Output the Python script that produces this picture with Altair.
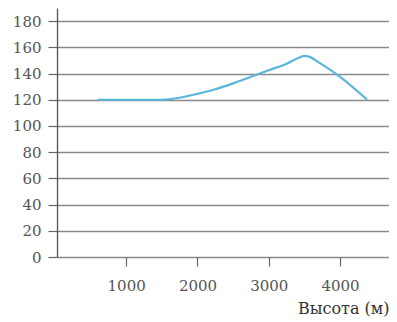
import altair as alt
import pandas as pd

altitude = [600, 1000, 1500, 1750, 2000, 2250, 2500, 2750, 3000, 3250, 3420, 3500, 3580, 3700, 4000, 4380]
value = [120, 120, 120, 121.5, 124.5, 128, 132.5, 137.5, 142.5, 147.5, 152, 153.5, 152.5, 148.5, 137.5, 120]

df = pd.DataFrame({"altitude": altitude, "value": value})

FONT = "DejaVu Serif"

chart = alt.Chart(df).mark_line(
    color="#5ab6dc", strokeWidth=2.2, interpolate="monotone"
).encode(
    x=alt.X("altitude:Q",
            scale=alt.Scale(domain=[30, 4686], nice=False, zero=False),
            axis=alt.Axis(values=[1000, 2000, 3000, 4000], format="d", title="Высота (м)",
                          grid=False, domain=False, tickSize=9, tickColor="#666",
                          tickWidth=1.2, labelPadding=12, labelFont=FONT,
                          labelFontSize=15, labelColor="#555",
                          titleFont=FONT, titleFontSize=16, titleFontWeight="normal",
                          titleColor="#333", titleAnchor="end", titleAlign="right",
                          titleX=332, titleY=43)),
    y=alt.Y("value:Q",
            scale=alt.Scale(domain=[0, 190], nice=False),
            axis=alt.Axis(values=[0, 20, 40, 60, 80, 100, 120, 140, 160, 180], title=None,
                          grid=True, gridColor="#8a8a8a", gridWidth=1.6,
                          domain=True, domainColor="#555", domainWidth=1.3,
                          tickSize=9, tickColor="#666", tickWidth=1.2,
                          labelPadding=7, labelFont=FONT, labelFontSize=15,
                          labelColor="#555")),
).properties(
    width=332, height=249,
    autosize=alt.AutoSizeParams(type="none"),
    padding={"left": 49, "top": 0, "right": 0, "bottom": 62},
).configure_view(stroke=None)

chart.save("out.html", embed_options={"renderer": "svg", "actions": False})
